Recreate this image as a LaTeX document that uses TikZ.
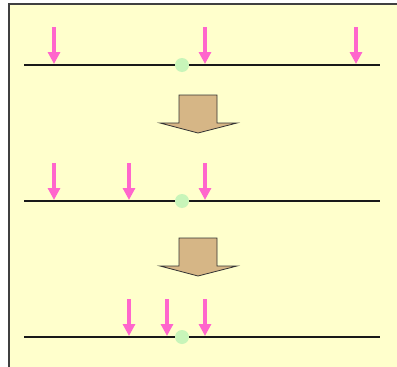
\documentclass[tikz,border=0pt]{standalone}
\usepackage{tikz}
\usetikzlibrary{arrows.meta, calc}

\definecolor{paper}{RGB}{255,255,204}
\definecolor{probepink}{RGB}{255,102,204}
\definecolor{pivotgreen}{RGB}{200,245,185}
\definecolor{tan}{RGB}{214,182,134}

\tikzset{
    axisline/.style={line width=2pt, black!90},
    probe/.style={line width=3.5pt, draw=probepink, -{Triangle[width=12pt, length=12pt]}},
    pivot/.style={circle, fill=pivotgreen, inner sep=0pt, minimum size=14pt},
    shrink/.style={fill=tan, draw=black!80, line width=0.8pt}
}

\begin{document}
\begin{tikzpicture}[x=1pt, y=-1pt]

% Frame
\useasboundingbox (0,0) rectangle (397,367);
\fill[paper, draw=black!75, line width=1.5pt] (9,4) rectangle (410,380);

% Dimensions
\def\xl{24}
\def\xr{380}
\def\xm{182}

% The three search lines with their probes
\foreach \row/\ly/\probes in {1/65/{54,205,356}, 2/201/{54,129,205}, 3/337/{129,167,205}} {
    \coordinate (l\row a) at (\xl,\ly);
    \coordinate (l\row b) at (\xr,\ly);
    \draw[axisline] (l\row a) -- (l\row b);
    \node[pivot] (m\row) at (\xm,\ly) {};
    \foreach \px in \probes {
        \coordinate (t\row-\px) at (\px,\ly-38);
        \coordinate (h\row-\px) at (\px,\ly-1);
        \draw[probe] (t\row-\px) -- (h\row-\px);
    }
}

% Block arrows between the rows
\foreach \top in {95,238} {
    \draw[shrink] (179,\top) -- (217,\top) -- (217,\top+28) -- (237,\top+28)
        -- (198,\top+38) -- (160,\top+28) -- (179,\top+28) -- cycle;
}

\end{tikzpicture}
\end{document}
